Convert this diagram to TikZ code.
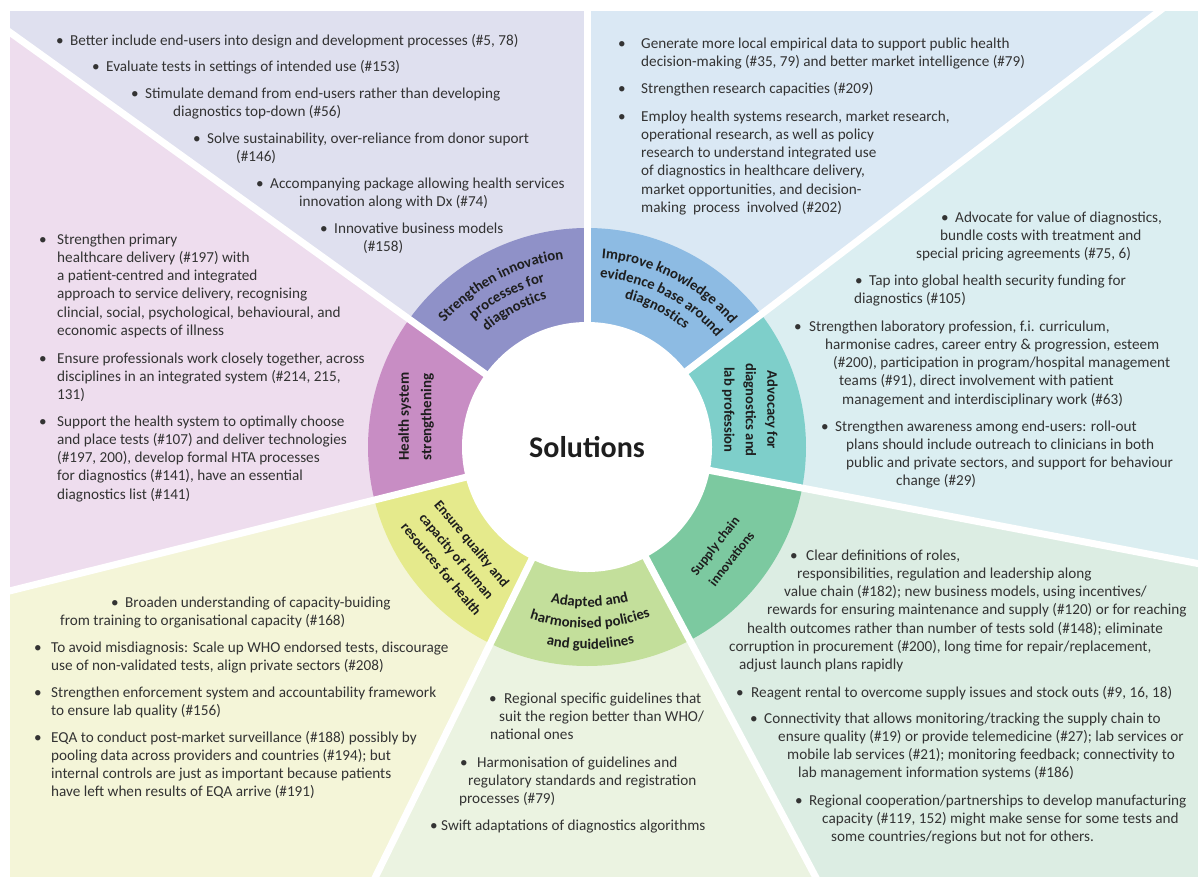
\documentclass[tikz,border=0pt]{standalone}
\usepackage{fontspec}
\setmainfont{Carlito}
\usetikzlibrary{decorations.text}
\definecolor{txtgray}{HTML}{333333}
\definecolor{lblk}{HTML}{1E1E1E}
\definecolor{bgInno}{HTML}{DFE0EF}
\definecolor{bgKnow}{HTML}{DAE8F4}
\definecolor{bgAdv}{HTML}{DBEEF1}
\definecolor{bgSup}{HTML}{DCEDE3}
\definecolor{bgAda}{HTML}{EBF3E1}
\definecolor{bgEns}{HTML}{F4F5D8}
\definecolor{bgHea}{HTML}{EEDDEE}
\definecolor{rgInno}{HTML}{8F91C8}
\definecolor{rgKnow}{HTML}{8DBBE3}
\definecolor{rgAdv}{HTML}{7ECFCA}
\definecolor{rgSup}{HTML}{7CC9A0}
\definecolor{rgAda}{HTML}{C3DF9B}
\definecolor{rgEns}{HTML}{E5EA8C}
\definecolor{rgHea}{HTML}{C88DC4}
\newcommand\bu[1]{\makebox[0pt][r]{\makebox[#1pt][l]{\textbullet}}}
\newcommand\ind[1]{\hspace*{#1pt}}
\newcommand\tl[1]{\begin{tabular}[t]{@{}l@{}}#1\end{tabular}}
\newcommand\arcfont{\fontsize{14.8}{18}\selectfont\bfseries\color{lblk}}
\begin{document}
\begin{tikzpicture}[x=1pt,y=-1pt,
  txt/.style={anchor=base west, inner sep=0pt, text=txtgray, font=\fontsize{15.2}{18.3}\selectfont},
  lbl/.style={align=center, inner sep=0pt, text=lblk},
  arctext/.style={decorate, decoration={text along path, text align=center, text={|\arcfont|#1}}},
  divider/.style={white, line width=7pt}]
\useasboundingbox (0,0) rectangle (1198,878);
\begin{scope}
\clip (10,11) rectangle (1198,876);
\begin{scope}[shift={(587,447)}, y=1pt]
% background sectors
\fill[bgKnow] (0,0) -- (37.3:2000) -- (90:2000) -- cycle;
\fill[bgInno] (0,0) -- (90:2000) -- (144.3:2000) -- cycle;
\fill[bgHea] (0,0) -- (144.3:2000) -- (194:2000) -- cycle;
\fill[bgEns] (0,0) -- (194:2000) -- (243.8:2000) -- cycle;
\fill[bgAda] (0,0) -- (243.8:2000) -- (298:2000) -- cycle;
\fill[bgSup] (0,0) -- (298:2000) -- (349.2:2000) -- cycle;
\fill[bgAdv] (0,0) -- (349.2:2000) -- (397.3:2000) -- cycle;
% ring
\fill[rgKnow] (0,0) -- (37.3:219) arc[start angle=37.3, end angle=90, radius=219] -- cycle;
\fill[rgInno] (0,0) -- (90:219) arc[start angle=90, end angle=144.3, radius=219] -- cycle;
\fill[rgHea] (0,0) -- (144.3:219) arc[start angle=144.3, end angle=194, radius=219] -- cycle;
\fill[rgEns] (0,0) -- (194:219) arc[start angle=194, end angle=243.8, radius=219] -- cycle;
\fill[rgAda] (0,0) -- (243.8:219) arc[start angle=243.8, end angle=298, radius=219] -- cycle;
\fill[rgSup] (0,0) -- (298:219) arc[start angle=298, end angle=349.2, radius=219] -- cycle;
\fill[rgAdv] (0,0) -- (349.2:219) arc[start angle=349.2, end angle=397.3, radius=219] -- cycle;
\foreach \a in {90,37.3,-10.8,-62,243.8,194,144.3}
  \draw[divider] (0,0) -- (\a:2000);
\node[circle, fill=white, minimum size=250pt, inner sep=0pt, text=lblk,
  font=\fontsize{30}{32}\selectfont\bfseries] (sol) at (0,0) {Solutions};
% curved ring labels
\path[arctext={Strengthen innovation}] (158:189) arc[start angle=158, end angle=78, radius=189];
\path[arctext={processes for}] (158:170) arc[start angle=158, end angle=78, radius=170];
\path[arctext={diagnostics}] (158:153) arc[start angle=158, end angle=78, radius=153];
\path[arctext={Improve knowledge and}] (103:189) arc[start angle=103, end angle=23, radius=189];
\path[arctext={evidence base around}] (103:170) arc[start angle=103, end angle=23, radius=170];
\path[arctext={diagnostics}] (103:153) arc[start angle=103, end angle=23, radius=153];
\path[arctext={Adapted and}] (-134:160) arc[start angle=-134, end angle=-44, radius=160];
\path[arctext={harmonised policies}] (-134:181) arc[start angle=-134, end angle=-44, radius=181];
\path[arctext={and guidelines}] (-134:202) arc[start angle=-134, end angle=-44, radius=202];
% straight ring labels
\node[lbl, rotate=-90, font=\fontsize{14.6}{21.5}\selectfont\bfseries] (lAdv) at (12.8:167) {Advocacy for\\diagnostics and\\lab profession};
\node[lbl, rotate=52, font=\fontsize{13.4}{21}\selectfont\bfseries] (lSup) at (-37.7:172) {Supply chain\\innovations};
\node[lbl, rotate=-50, font=\fontsize{14}{20}\selectfont\bfseries] (lEns) at (220:170) {Ensure quality and\\capacity of human\\resources for health};
\node[lbl, rotate=90, font=\fontsize{15}{22.5}\selectfont\bfseries] (lHea) at (170:173.6) {Health system\\strengthening};
\end{scope}
\end{scope}
% Innovation
\node[txt] (i1) at (70,45) {\tl{\bu{14}Better include end-users into design and development processes (\#5, 78)}};
\node[txt] (i2) at (106,71) {\tl{\bu{14}Evaluate tests in settings of intended use (\#153)}};
\node[txt] (i3) at (145,98) {\tl{\bu{14}Stimulate demand from end-users rather than developing\\\ind{28}diagnostics top-down (\#56)}};
\node[txt] (i4) at (207,143) {\tl{\bu{14}Solve sustainability, over-reliance from donor suport\\\ind{29}(\#146)}};
\node[txt] (i5) at (270,188) {\tl{\bu{14}Accompanying package allowing health services\\\ind{29}innovation along with Dx (\#74)}};
\node[txt] (i6) at (334,233) {\tl{\bu{14}Innovative business models\\\ind{29}(\#158)}};
% Knowledge
\node[txt] (k1) at (641,48) {\tl{\bu{23}Generate more local empirical data to support public health\\decision-making (\#35, 79) and better market intelligence (\#79)}};
\node[txt] (k2) at (641,93) {\tl{\bu{23}Strengthen research capacities (\#209)}};
\node[txt] (k3) at (641,121) {\tl{\bu{23}Employ health systems research, market research,\\operational research, as well as policy\\research to understand integrated use\\of diagnostics in healthcare delivery,\\market opportunities, and decision-\\making~ process~ involved (\#202)}};
% Advocacy
\node[txt] (a1) at (916,222) {\tl{\ind{39}\bu{14}Advocate for value of diagnostics,\\\ind{24}bundle costs with treatment and\\special pricing agreements (\#75, 6)}};
\node[txt] (a2) at (854,285) {\tl{\ind{15}\bu{14}Tap into global health security funding for\\diagnostics (\#105)}};
\node[txt] (a3) at (809,331) {\tl{\bu{15}Strengthen laboratory profession, f.i. curriculum,\\\ind{16}harmonise cadres, career entry \& progression, esteem\\\ind{24}(\#200), participation in program/hospital management\\\ind{30}teams (\#91), direct involvement with patient\\\ind{33}management and interdisciplinary work (\#63)}};
\node[txt] (a4) at (835,431) {\tl{\bu{14}Strengthen awareness among end-users: roll-out\\\ind{11}plans should include outreach to clinicians in both\\\ind{11}public and private sectors, and support for behaviour\\\ind{61}change (\#29)}};
% Supply chain
\node[txt] (s1) at (729,560) {\tl{\ind{77}\bu{16}Clear definitions of roles,\\\ind{68}responsibilities, regulation and leadership along\\\ind{55}value chain (\#182); new business models, using incentives/\\\ind{38}rewards for ensuring maintenance and supply (\#120) or for reaching\\\ind{18}health outcomes rather than number of tests sold (\#148); eliminate\\corruption in procurement (\#200), long time for repair/replacement,\\\ind{10}adjust launch plans rapidly}};
\node[txt] (s2) at (751,697) {\tl{\bu{15}Reagent rental to overcome supply issues and stock outs (\#9, 16, 18)}};
\node[txt] (s3) at (764,723) {\tl{\bu{14}Connectivity that allows monitoring/tracking the supply chain to\\\ind{14}ensure quality (\#19) or provide telemedicine (\#27); lab services or\\\ind{23}mobile lab services (\#21); monitoring feedback; connectivity to\\\ind{34}lab management information systems (\#186)}};
\node[txt] (s4) at (809,805) {\tl{\bu{14}Regional cooperation/partnerships to develop manufacturing\\\ind{13}capacity (\#119, 152) might make sense for some tests and\\\ind{22}some countries/regions but not for others.}};
% Adapted
\node[txt] (d1) at (490,703) {\tl{\ind{14}\bu{15}Regional specific guidelines that\\\ind{9}suit the region better than WHO/\\national ones}};
\node[txt] (d2) at (459,767) {\tl{\ind{18}\bu{17}Harmonisation of guidelines and\\\ind{9}regulatory standards and registration\\processes (\#79)}};
\node[txt] (d3) at (441,830) {\tl{\bu{11}Swift adaptations of diagnostics algorithms}};
% Ensure quality
\node[txt] (e1) at (60,607) {\tl{\ind{65}\bu{14}Broaden understanding of capacity-buiding\\from training to organisational capacity (\#168)}};
\node[txt] (e2) at (51,652) {\tl{\bu{17}To avoid misdiagnosis: Scale up WHO endorsed tests, discourage\\use of non-validated tests, align private sectors (\#208)}};
\node[txt] (e3) at (51,697) {\tl{\bu{17}Strengthen enforcement system and accountability framework\\to ensure lab quality (\#156)}};
\node[txt] (e4) at (51,742) {\tl{\bu{17}EQA to conduct post-market surveillance (\#188) possibly by\\pooling data across providers and countries (\#194); but\\internal controls are just as important because patients\\have left when results of EQA arrive (\#191)}};
% Health system
\node[txt] (h1) at (57,244) {\tl{\bu{18}Strengthen primary\\healthcare delivery (\#197) with\\a patient-centred and integrated\\approach to service delivery, recognising\\clincial, social, psychological, behavioural, and\\economic aspects of illness}};
\node[txt] (h2) at (57,363) {\tl{\bu{18}Ensure professionals work closely together, across\\disciplines in an integrated system (\#214, 215,\\131)}};
\node[txt] (h3) at (57,426) {\tl{\bu{18}Support the health system to optimally choose\\and place tests (\#107) and deliver technologies\\(\#197, 200), develop formal HTA processes\\for diagnostics (\#141), have an essential\\diagnostics list (\#141)}};
\end{tikzpicture}
\end{document}
